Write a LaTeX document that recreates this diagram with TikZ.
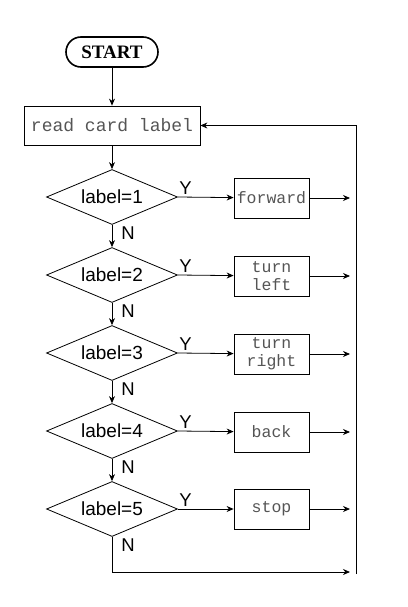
\documentclass[tikz,border=0pt]{standalone}
\usepackage{fontspec}
\setmainfont{Liberation Serif}
\setsansfont{Liberation Sans}
\setmonofont{Liberation Mono}
\usetikzlibrary{arrows.meta,shapes.geometric}
\definecolor{boxgray}{RGB}{85,85,85}

\begin{document}
\begin{tikzpicture}[x=1pt, y=-1pt, line width=0.8pt,
  >={Stealth[length=7pt,width=6pt]},
  term/.style={draw, rounded corners=15pt, line width=1.6pt, minimum width=92pt,
    minimum height=30pt, font=\bfseries\fontsize{19}{21}\selectfont},
  act/.style={draw, text=boxgray, minimum width=75pt, minimum height=40pt,
    inner sep=1pt, align=center, font=\ttfamily\fontsize{16.5}{18}\selectfont},
  test/.style={draw, diamond, aspect=2.4, minimum width=131pt, minimum height=55pt,
    inner sep=0pt, font=\sffamily\fontsize{19}{21}\selectfont},
  yn/.style={inner sep=0pt, font=\sffamily\fontsize{18.5}{20}\selectfont},
  ylab/.style={yn, pos=0, anchor=south west, xshift=1pt, yshift=2pt},
  nlab/.style={yn, pos=0, anchor=north west, xshift=9pt, yshift=-1pt}]
  \useasboundingbox (0,0) rectangle (407,607);
  % start and input
  \node[term] (start) at (112,52) {START};
  \node[act, minimum width=176pt, minimum height=39pt,
    font=\ttfamily\fontsize{18}{20}\selectfont] (read) at (112,125.5) {read card label};
  % tests
  \node[test] (t1) at (112,197) {label=1};
  \node[test] (t2) at (112,275) {label=2};
  \node[test] (t3) at (112,353) {label=3};
  \node[test] (t4) at (112,431) {label=4};
  \node[test] (t5) at (112,509) {label=5};
  % actions
  \node[act] (a1) at (271.5,198) {forward};
  \node[act] (a2) at (271.5,276) {turn\\left};
  \node[act] (a3) at (271.5,354) {turn\\right};
  \node[act] (a4) at (271.5,432) {back};
  \node[act] (a5) at (271.5,509) {stop};
  \coordinate (o1) at (350,198);
  \coordinate (o2) at (350,276);
  \coordinate (o3) at (350,354);
  \coordinate (o4) at (350,432);
  \coordinate (o5) at (350,509);
  \coordinate (nb) at (112,572);
  \coordinate (no) at (350,572);
  \coordinate (rb) at (356,574);
  \coordinate (rt) at (356,125.5);

  \draw[->] (start) -- (read);
  \draw[->] (read) -- (t1);
  \draw[->] (t1.south) -- node[nlab] {N} (t2.north);
  \draw[->] (t2.south) -- node[nlab] {N} (t3.north);
  \draw[->] (t3.south) -- node[nlab] {N} (t4.north);
  \draw[->] (t4.south) -- node[nlab] {N} (t5.north);
  \draw[->] (t5.south) -- node[nlab] {N} (nb) -- (no);
  \draw[->] (t1.east) -- node[ylab] {Y} (a1);
  \draw[->] (t2.east) -- node[ylab] {Y} (a2);
  \draw[->] (t3.east) -- node[ylab] {Y} (a3);
  \draw[->] (t4.east) -- node[ylab] {Y} (a4);
  \draw[->] (t5.east) -- node[ylab] {Y} (a5);
  \draw[->] (a1) -- (o1);
  \draw[->] (a2) -- (o2);
  \draw[->] (a3) -- (o3);
  \draw[->] (a4) -- (o4);
  \draw[->] (a5) -- (o5);
  \draw[->] (rb) -- (rt) -- (read.east);
\end{tikzpicture}
\end{document}
